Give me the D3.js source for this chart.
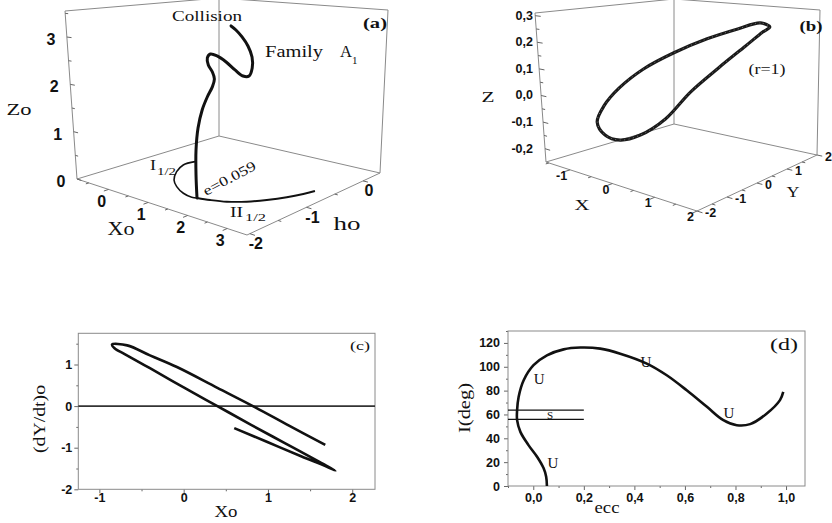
<!DOCTYPE html>
<html>
<head>
<meta charset="utf-8">
<script src="https://cdn.jsdelivr.net/npm/d3@7"></script>
<style>
  body { margin: 0; background: #fff; }
  svg { display: block; }
</style>
</head>
<body>
<svg id="fig" width="832" height="523"></svg>
<script>
/* ===== Four-panel orbit figure: (a) family A1, (b) orbit r=1, (c) phase plot, (d) I vs ecc ===== */

// ---------- panel (a): family A1 rising from the planar family (Xo, ho, Zo) ----------
const famXo = [1.512, 1.494, 1.502, 1.559, 1.666, 1.794, 1.919, 1.970, 1.922, 1.825, 1.802, 1.876,
               2.037, 2.254, 2.469, 2.664, 2.809, 2.883, 2.876, 2.776, 2.633, 2.487, 2.370];
const famHo = [-1.56, -1.56, -1.56, -1.56, -1.56, -1.56, -1.56, -1.56, -1.56, -1.56, -1.56, -1.56,
               -1.56, -1.56, -1.56, -1.56, -1.56, -1.56, -1.56, -1.56, -1.56, -1.56, -1.56];
const famZo = [0, 0.446, 0.939, 1.381, 1.750, 2.020, 2.232, 2.391, 2.519, 2.644, 2.776, 2.860,
               2.840, 2.748, 2.621, 2.530, 2.546, 2.702, 2.903, 3.098, 3.254, 3.372, 3.439];
// planar families on the floor (Zo = 0)
const famIXo  = [0.039, 0.013, 0.202, 0.503, 0.800, 1.144, 1.410, 1.512];
const famIHo  = [-0.628, -0.809, -1.042, -1.282, -1.432, -1.547, -1.582, -1.560];
const famIIXo = [1.512, 1.771, 2.077, 2.373, 2.619, 2.834, 2.980, 3.061];
const famIIHo = [-1.560, -1.510, -1.427, -1.282, -1.098, -0.894, -0.703, -0.553];
const aXoTicks = [0, 1, 2, 3];
const aHoTicks = [-2, -1, 0];
const aZoTicks = [0, 1, 2, 3];

// ---------- panel (b): periodic orbit r=1 (X, Y, Z) ----------
const orbX = [1.536, 1.848, 1.802, 1.507, 1.034, 0.497, -0.063, -0.560, -1.081, -1.360, -1.407, -1.296,
              -1.028, -0.663, -0.150, 0.489, 1.056];
const orbY = [0.986, 0.234, -0.449, -1.022, -1.426, -1.616, -1.612, -1.437, -0.986, -0.407, 0.109, 0.603,
              1.053, 1.375, 1.594, 1.617, 1.413];
const orbZ = [0.262, 0.298, 0.290, 0.263, 0.214, 0.151, 0.069, -0.017, -0.111, -0.193, -0.235, -0.229,
              -0.169, -0.056, 0.051, 0.154, 0.225];
const bXTicks = [-1, 0, 1, 2];
const bYTicks = [-2, -1, 0, 1, 2];
const bZTicks = [-0.2, -0.1, 0, 0.1, 0.2, 0.3];

// ---------- panel (c): Xo vs (dY/dt)o ----------
const cXo = [0.60, 1.00, 1.40, 1.70, 1.80, 1.60, 1.20, 0.80, 0.40, 0.00, -0.40, -0.70, -0.82, -0.85,
             -0.67, -0.40, -0.08, 0.40, 0.85, 1.25, 1.68];
const cDY = [-0.53, -0.87, -1.21, -1.46, -1.55, -1.33, -0.89, -0.45, 0.00, 0.45, 0.91, 1.25, 1.39, 1.48,
             1.46, 1.22, 0.94, 0.44, -0.03, -0.47, -0.93];
const cXTicks = [-1, 0, 1, 2];
const cYTicks = [-2, -1, 0, 1];

// ---------- panel (d): inclination vs eccentricity ----------
const eccVals = [0.054, 0.051, 0.041, 0.015, -0.019, -0.051, -0.064, -0.064, -0.058, -0.038, 0.001, 0.054,
                 0.120, 0.186, 0.265, 0.344, 0.449, 0.528, 0.607, 0.687, 0.752, 0.805, 0.858, 0.924,
                 0.976, 0.989];
const incVals = [0, 7.8, 14.8, 24.5, 34.3, 45.4, 55.2, 63.6, 74.7, 88.7, 101.3, 109.6,
                 114.6, 116.1, 115.2, 111.0, 102.7, 92.9, 80.3, 66.4, 55.2, 51.0, 51.9, 60.8,
                 72.0, 78.9];
const stableBand = [55.8, 63.6];   // I limits of the stable strip
const stableEccEnd = 0.2;
const dXTicks = [0, 0.2, 0.4, 0.6, 0.8, 1.0];
const dYTicks = [0, 20, 40, 60, 80, 100, 120];

/* ---------- helpers ---------- */
const SERIF = '"Liberation Serif","Times New Roman",serif';
const SANS  = '"Liberation Sans",Arial,sans-serif';
const fmtComma = d3.formatLocale({decimal: ",", thousands: ".", grouping: [3], currency: ["", ""], minus: "-"}).format(".1f");
const fmtInt   = d3.formatLocale({decimal: ".", thousands: ",", grouping: [3], currency: ["", ""], minus: "-"}).format("d");
const EDGE = "#8a8a8a";

const svg = d3.select("#fig");

function addText(g, x, y, s, o = {}){
  const t = g.append("text")
    .attr("x", x).attr("y", y)
    .attr("font-family", o.serif ? SERIF : SANS)
    .attr("font-size", o.size || 12)
    .attr("font-weight", o.bold ? "bold" : null)
    .attr("text-anchor", o.anchor || "start")
    .attr("fill", "#111")
    .text(s);
  if (o.len) t.attr("textLength", o.len).attr("lengthAdjust", "spacingAndGlyphs");
  if (o.rot) t.attr("transform", `rotate(${o.rot},${x},${y})`);
  return t;
}

// Trilinear "box" projection: data -> [0,1] via linear scales, then interpolate the frame corners
function makeProj(frame, xDom, yDom, zDom){
  const su = d3.scaleLinear().domain(xDom).range([0, 1]);
  const sv = d3.scaleLinear().domain(yDom).range([0, 1]);
  const sw = d3.scaleLinear().domain(zDom).range([0, 1]);
  const bil = (q, u, v) => [0, 1].map(k =>
    q[0][k]*(1-u)*(1-v) + q[1][k]*u*(1-v) + q[2][k]*u*v + q[3][k]*(1-u)*v);
  return (x, y, z) => {
    const u = su(x), v = sv(y), w = sw(z);
    const b = bil(frame.bottom, u, v), t = bil(frame.top, u, v);
    return [b[0] + w*(t[0]-b[0]), b[1] + w*(t[1]-b[1])];
  };
}

function drawBox(g, P, xd, yd, zd){
  const [x0, x1] = xd, [y0, y1] = yd, [z0, z1] = zd;
  const edges = [
    [[x0,y0,z0],[x1,y0,z0]], [[x1,y0,z0],[x1,y1,z0]], [[x1,y1,z0],[x0,y1,z0]], [[x0,y1,z0],[x0,y0,z0]],
    [[x0,y0,z0],[x0,y0,z1]], [[x0,y1,z0],[x0,y1,z1]], [[x1,y1,z0],[x1,y1,z1]],
    [[x0,y0,z1],[x0,y1,z1]], [[x0,y1,z1],[x1,y1,z1]]
  ];
  g.selectAll("line.edge").data(edges).join("line")
    .attr("class", "edge")
    .attr("x1", d => P(...d[0])[0]).attr("y1", d => P(...d[0])[1])
    .attr("x2", d => P(...d[1])[0]).attr("y2", d => P(...d[1])[1])
    .attr("stroke", EDGE).attr("stroke-width", 1);
}

function drawTicks3d(g, P, segs){
  g.append("g").selectAll("line").data(segs).join("line")
    .attr("x1", d => P(...d[0])[0]).attr("y1", d => P(...d[0])[1])
    .attr("x2", d => P(...d[1])[0]).attr("y2", d => P(...d[1])[1])
    .attr("stroke", "#666").attr("stroke-width", 1);
}

const halves = arr => arr.slice(0, -1).map((v, i) => (v + arr[i+1]) / 2);

/* ================= panel (a) ================= */
(function(){
  const g = svg.append("g");
  const xd = [-0.8, 3.5], hd = [-2.05, 0.3], zd = [0, 3.55];
  const P = makeProj({
    bottom: [[77,179],[247,235],[380,173],[219,136]],
    top:    [[65,11],[250,28],[388,10],[219,-2]]
  }, xd, hd, zd);

  drawBox(g, P, xd, hd, zd);

  const xoAll = aXoTicks.concat(halves(aXoTicks), [-0.5]);
  const hoAll = aHoTicks.concat(halves(aHoTicks));
  const zoAll = aZoTicks.concat(halves(aZoTicks), [3.5]);
  drawTicks3d(g, P, [
    ...xoAll.map(t => [[t, hd[0], 0], [t, hd[0] - (Number.isInteger(t) ? 0.08 : 0.05), 0]]),
    ...hoAll.map(t => [[xd[1], t, 0], [xd[1] + (Number.isInteger(t) ? 0.13 : 0.08), t, 0]]),
    ...zoAll.map(t => [[xd[0], hd[0], t], [xd[0] + (Number.isInteger(t) ? 0.11 : 0.07), hd[0], t]])
  ]);

  aXoTicks.forEach(t => { const p = P(t, hd[0], 0); addText(g, p[0] - 7, p[1] + 18, fmtInt(t), {bold: true, size: 16, anchor: "middle"}); });
  aHoTicks.forEach(t => { const p = P(xd[1], t, 0); addText(g, p[0] + 6, p[1] + 15.5, fmtInt(t), {bold: true, size: 16, anchor: "middle"}); });
  aZoTicks.forEach(t => { const p = P(xd[0], hd[0], t); addText(g, p[0] - 16, p[1] + 8, fmtInt(t), {bold: true, size: 16, anchor: "middle"}); });

  // planar families I1/2 and II1/2 on the floor
  const line = d3.line().curve(d3.curveCatmullRom);
  g.append("path")
    .attr("d", line(famIXo.map((x, i) => P(x, famIHo[i], 0))))
    .attr("fill", "none").attr("stroke", "#111").attr("stroke-width", 1.6);
  g.append("path")
    .attr("d", line(famIIXo.map((x, i) => P(x, famIIHo[i], 0))))
    .attr("fill", "none").attr("stroke", "#111").attr("stroke-width", 1.9);
  // family A1
  g.append("path")
    .attr("d", line(famXo.map((x, i) => P(x, famHo[i], famZo[i]))))
    .attr("fill", "none").attr("stroke", "#111").attr("stroke-width", 3)
    .attr("stroke-linecap", "round");

  addText(g, 207, 21, "Collision", {serif: true, size: 15, anchor: "middle", len: 70});
  addText(g, 265, 57, "Family", {serif: true, size: 16, len: 58});
  addText(g, 340, 57, "A", {serif: true, size: 16, len: 12});
  addText(g, 352, 64, "1", {serif: true, size: 11});
  addText(g, 375, 28, "(a)", {serif: true, size: 14, bold: true, anchor: "middle", len: 24});
  addText(g, 150, 170, "I", {serif: true, size: 14, len: 6});
  addText(g, 157, 175, "1/2", {serif: true, size: 10, len: 19});
  addText(g, 206, 196, "e=0.059", {serif: true, size: 14, len: 58, rot: -28});
  addText(g, 230, 217, "II", {serif: true, size: 14, len: 13});
  addText(g, 245, 221, "1/2", {serif: true, size: 10, len: 21});
  addText(g, 19, 115, "Zo", {serif: true, size: 16, anchor: "middle", len: 25});
  addText(g, 121, 235, "Xo", {serif: true, size: 18, anchor: "middle", len: 27});
  addText(g, 347, 230, "ho", {serif: true, size: 18, anchor: "middle", len: 27});
})();

/* ================= panel (b) ================= */
(function(){
  const g = svg.append("g");
  const xd = [-1.57, 2], yd = [-2, 2], zd = [-0.25, 0.31];
  const P = makeProj({
    bottom: [[546,162],[697,211],[817,155],[674,124]],
    top:    [[535,13],[700,33],[820,10],[674,-1]]
  }, xd, yd, zd);

  drawBox(g, P, xd, yd, zd);

  const xAll = bXTicks.concat(halves(bXTicks), [-1.5]);
  const yAll = bYTicks.concat(halves(bYTicks));
  const zAll = bZTicks.concat(halves(bZTicks));
  drawTicks3d(g, P, [
    ...xAll.map(t => [[t, yd[0], zd[0]], [t, yd[0] - (Number.isInteger(t) ? 0.16 : 0.1), zd[0]]]),
    ...yAll.map(t => [[xd[1], t, zd[0]], [xd[1] + (Number.isInteger(t) ? 0.13 : 0.08), t, zd[0]]]),
    ...zAll.map(t => [[xd[0], yd[0], t], [xd[0] + (bZTicks.includes(t) ? 0.12 : 0.07), yd[0], t]])
  ]);

  bXTicks.forEach(t => { const p = P(t, yd[0], zd[0]); addText(g, p[0] - 3, p[1] + 10, fmtInt(t), {bold: true, size: 12.5, anchor: "end"}); });
  bYTicks.forEach(t => { const p = P(xd[1], t, zd[0]); addText(g, p[0] + 8, p[1] + 5.5, fmtInt(t), {bold: true, size: 12.5}); });
  bZTicks.forEach(t => { const p = P(xd[0], yd[0], t); addText(g, 533, p[1] + 4, fmtComma(t), {bold: true, size: 12.5, anchor: "end"}); });

  const pts = orbX.map((x, i) => P(x, orbY[i], orbZ[i]));
  const ring = d3.line().curve(d3.curveCatmullRomClosed)(pts);
  g.append("path").attr("d", ring).attr("fill", "none").attr("stroke", "#1a1a1a").attr("stroke-width", 3.2);
  g.append("path").attr("d", ring).attr("fill", "none").attr("stroke", "#8c8c8c")
    .attr("stroke-width", 0.8).attr("stroke-dasharray", "1,3.5");

  addText(g, 811, 31, "(b)", {serif: true, size: 14, bold: true, anchor: "middle", len: 23});
  addText(g, 767, 74, "(r=1)", {serif: true, size: 14, anchor: "middle", len: 37});
  addText(g, 488, 102, "Z", {serif: true, size: 15, anchor: "middle", len: 13});
  addText(g, 582, 210, "X", {serif: true, size: 15, anchor: "middle", len: 15});
  addText(g, 793, 197, "Y", {serif: true, size: 15, anchor: "middle", len: 13});
})();

/* ---------- 2D frame helper ---------- */
function frame2d(g, x, y, xMajor, yMajor, xMinor, yMinor, xFmt, yFmt, xPad, yPad){
  const [x0, x1] = x.range(), [y0, y1] = y.range();
  const style = sel => {
    sel.select(".domain").remove();
    sel.selectAll("line").attr("stroke", "#666");
    sel.selectAll("text").attr("font-family", SANS).attr("font-weight", "bold")
      .attr("font-size", 12.5).attr("fill", "#111");
  };
  g.append("g").attr("transform", `translate(0,${y0})`)
    .call(d3.axisBottom(x).tickValues(xMinor).tickSize(2).tickFormat("")).call(style);
  g.append("g").attr("transform", `translate(0,${y0})`)
    .call(d3.axisBottom(x).tickValues(xMajor).tickSize(4).tickPadding(xPad).tickFormat(xFmt)).call(style);
  g.append("g").attr("transform", `translate(${x0},0)`)
    .call(d3.axisLeft(y).tickValues(yMinor).tickSize(2).tickFormat("")).call(style);
  g.append("g").attr("transform", `translate(${x0},0)`)
    .call(d3.axisLeft(y).tickValues(yMajor).tickSize(4).tickPadding(yPad).tickFormat(yFmt)).call(style);
  g.append("rect").attr("x", x0).attr("y", y1).attr("width", x1 - x0).attr("height", y0 - y1)
    .attr("fill", "none").attr("stroke", EDGE).attr("stroke-width", 1);
}

/* ================= panel (c) ================= */
(function(){
  const g = svg.append("g");
  const x = d3.scaleLinear().domain([-1.25, 2.27]).range([78.3, 375]);
  const y = d3.scaleLinear().domain([-2, 1.75]).range([489.3, 333.3]);
  frame2d(g, x, y, cXTicks, cYTicks, halves(cXTicks), halves(cYTicks).concat([1.5]), fmtInt, fmtInt, 0, 2);

  g.append("line").attr("x1", x.range()[0]).attr("x2", x.range()[1])
    .attr("y1", y(0)).attr("y2", y(0)).attr("stroke", "#333").attr("stroke-width", 1.6);

  const line = d3.line().x((d, i) => x(cXo[i])).y(d => y(d)).curve(d3.curveCatmullRom);
  g.append("path").attr("d", line(cDY)).attr("fill", "none")
    .attr("stroke", "#111").attr("stroke-width", 2.6).attr("stroke-linejoin", "round");

  addText(g, 360, 350, "(c)", {serif: true, size: 13, anchor: "middle", len: 20});
  addText(g, 226, 517, "Xo", {serif: true, size: 17, anchor: "middle", len: 23});
  addText(g, 45, 419, "(dY/dt)o", {serif: true, size: 17, anchor: "middle", len: 68, rot: -90});
})();

/* ================= panel (d) ================= */
(function(){
  const g = svg.append("g");
  const x = d3.scaleLinear().domain([-0.1, 1.075]).range([508, 805]);
  const y = d3.scaleLinear().domain([0, 130]).range([486, 331]);
  const xMinor = [-0.1, 0.1, 0.3, 0.5, 0.7, 0.9];
  const yMinor = [10, 30, 50, 70, 90, 110, 130];
  frame2d(g, x, y, dXTicks, dYTicks, xMinor, yMinor, fmtComma, fmtInt, 3, 4);

  g.append("g").selectAll("line").data(stableBand).join("line")
    .attr("x1", x.range()[0]).attr("x2", x(stableEccEnd))
    .attr("y1", d => y(d)).attr("y2", d => y(d))
    .attr("stroke", "#111").attr("stroke-width", 1.3);

  const line = d3.line().x((d, i) => x(eccVals[i])).y(d => y(d)).curve(d3.curveCatmullRom);
  g.append("path").attr("d", line(incVals)).attr("fill", "none")
    .attr("stroke", "#111").attr("stroke-width", 2.6);

  [[0.023, 90], [0.446, 104], [0.774, 61], [0.078, 19]].forEach(([e, i]) =>
    addText(g, x(e), y(i) + 5, "U", {serif: true, size: 15, anchor: "middle"}));
  addText(g, x(0.066), y(59.6) + 4, "S", {serif: true, size: 11, anchor: "middle"});

  addText(g, 784, 350, "(d)", {serif: true, size: 16, anchor: "middle", len: 28});
  addText(g, 607, 513, "ecc", {serif: true, size: 17, anchor: "middle", len: 25});
  addText(g, 470, 408, "I(deg)", {serif: true, size: 17, anchor: "middle", len: 50, rot: -90});
})();
</script>
</body>
</html>
